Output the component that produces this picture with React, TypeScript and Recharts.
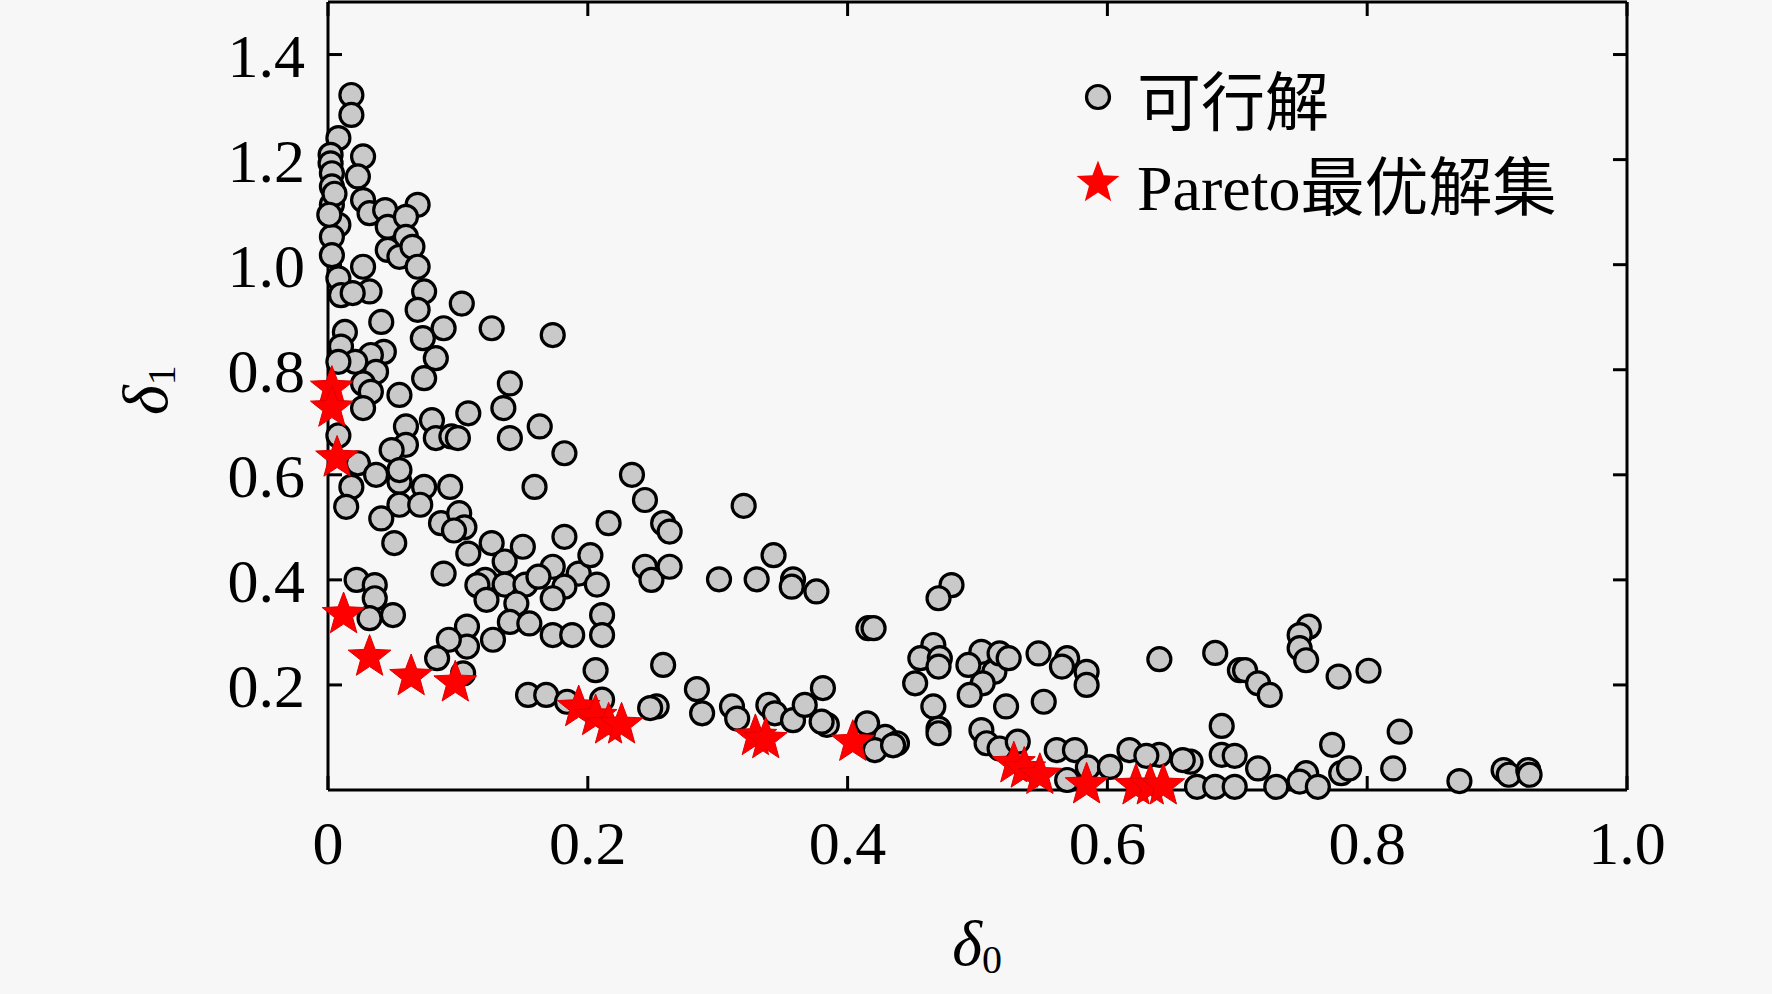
import React from "react";
import { ScatterChart, Scatter, XAxis, YAxis, Legend } from "recharts";

// δ0 / δ1 of the feasible solutions (grey circles)
const feasibleD0 = [
  0.018, 0.018, 0.008, 0.002, 0.002, 0.003, 0.003, 0.003, 0.008, 0.003, 0.003, 0.008, 0.010,
  0.005, 0.001, 0.027, 0.023, 0.027, 0.032, 0.044, 0.046, 0.069, 0.060, 0.060, 0.046, 0.055,
  0.065, 0.069, 0.027, 0.032, 0.019, 0.074, 0.069, 0.103, 0.041, 0.089, 0.126, 0.013, 0.073,
  0.173, 0.140, 0.135, 0.163, 0.140, 0.182,
  0.010, 0.043, 0.033, 0.083, 0.021, 0.008, 0.037, 0.074, 0.027, 0.055, 0.033, 0.027, 0.108,
  0.060, 0.080, 0.083, 0.095, 0.100, 0.060, 0.049, 0.008, 0.023, 0.037, 0.055, 0.055, 0.074,
  0.094, 0.018, 0.014, 0.055, 0.071, 0.041, 0.087, 0.101, 0.105, 0.097, 0.051, 0.108, 0.126,
  0.159, 0.234, 0.244, 0.258, 0.263, 0.216, 0.182, 0.150, 0.136, 0.089, 0.121, 0.115, 0.136,
  0.152, 0.173, 0.162, 0.193, 0.202, 0.182, 0.207, 0.122, 0.145, 0.173, 0.140, 0.155, 0.211,
  0.211, 0.173, 0.188, 0.127, 0.107, 0.107, 0.093, 0.084, 0.022, 0.036, 0.036, 0.050, 0.032,
  0.206, 0.258, 0.154, 0.168, 0.184, 0.211, 0.253, 0.248, 0.284, 0.288, 0.244, 0.249, 0.263,
  0.104,
  0.320, 0.343, 0.301, 0.330, 0.358, 0.357, 0.376, 0.416, 0.420, 0.480, 0.470, 0.466, 0.456,
  0.471, 0.470, 0.452, 0.466, 0.470, 0.470, 0.503, 0.493, 0.513, 0.517, 0.524, 0.504, 0.494,
  0.522, 0.547, 0.551, 0.569, 0.565, 0.584, 0.584, 0.503, 0.507, 0.517, 0.531, 0.561, 0.575,
  0.569, 0.585, 0.311, 0.315, 0.339, 0.344, 0.358, 0.367, 0.381, 0.384, 0.380, 0.415, 0.429,
  0.438, 0.421, 0.435,
  0.640, 0.683, 0.702, 0.706, 0.716, 0.725, 0.755, 0.748, 0.748, 0.753, 0.778, 0.801, 0.688,
  0.773, 0.825, 0.820, 0.871, 0.617, 0.602, 0.640, 0.630, 0.664, 0.658, 0.688, 0.698, 0.716,
  0.669, 0.683, 0.698, 0.730, 0.753, 0.748, 0.762, 0.780, 0.786, 0.905, 0.909, 0.924, 0.925,
];
const feasibleD1 = [
  1.323, 1.285, 1.241, 1.209, 1.193, 1.174, 1.149, 1.114, 1.076, 1.053, 1.018, 0.974, 0.942,
  1.135, 1.095, 1.206, 1.168, 1.123, 1.098, 1.104, 1.072, 1.114, 1.091, 1.053, 1.028, 1.015,
  1.034, 0.996, 0.996, 0.949, 0.946, 0.949, 0.914, 0.926, 0.891, 0.879, 0.879, 0.872, 0.860,
  0.866, 0.774, 0.727, 0.692, 0.670, 0.641,
  0.844, 0.834, 0.828, 0.822, 0.815, 0.815, 0.796, 0.784, 0.774, 0.752, 0.758, 0.727, 0.717,
  0.692, 0.704, 0.670, 0.673, 0.670, 0.657, 0.647, 0.675, 0.622, 0.600, 0.587, 0.609, 0.577,
  0.577, 0.577, 0.539, 0.543, 0.543, 0.517, 0.508, 0.527, 0.500, 0.494, 0.470, 0.450, 0.470,
  0.577, 0.600, 0.552, 0.508, 0.492, 0.508, 0.482, 0.463, 0.435, 0.412, 0.400, 0.390, 0.391,
  0.391, 0.425, 0.406, 0.412, 0.447, 0.387, 0.391, 0.362, 0.355, 0.365, 0.320, 0.317, 0.333,
  0.295, 0.295, 0.295, 0.286, 0.311, 0.273, 0.286, 0.251, 0.400, 0.390, 0.365, 0.333, 0.327,
  0.228, 0.238, 0.181, 0.181, 0.168, 0.172, 0.159, 0.156, 0.192, 0.146, 0.425, 0.400, 0.425,
  0.222,
  0.541, 0.447, 0.401, 0.401, 0.401, 0.387, 0.378, 0.308, 0.308, 0.390, 0.365, 0.276, 0.251,
  0.251, 0.235, 0.203, 0.159, 0.117, 0.108, 0.263, 0.238, 0.225, 0.260, 0.251, 0.203, 0.181,
  0.159, 0.260, 0.168, 0.251, 0.235, 0.225, 0.200, 0.114, 0.089, 0.079, 0.092, 0.076, 0.076,
  0.019, 0.043, 0.159, 0.136, 0.162, 0.146, 0.133, 0.162, 0.194, 0.124, 0.130, 0.127, 0.101,
  0.089, 0.076, 0.085,
  0.249, 0.261, 0.228, 0.228, 0.203, 0.181, 0.311, 0.295, 0.270, 0.247, 0.216, 0.227, 0.122,
  0.086, 0.111, 0.041, 0.017, 0.076, 0.044, 0.067, 0.065, 0.054, 0.057, 0.067, 0.065, 0.041,
  0.006, 0.006, 0.006, 0.006, 0.032, 0.016, 0.006, 0.032, 0.041, 0.038, 0.029, 0.038, 0.029,
];

// Pareto optimal set (red stars)
const paretoD0 = [
  0.003, 0.003, 0.007, 0.012, 0.032, 0.064, 0.098, 0.193, 0.206, 0.216, 0.226,
  0.329, 0.337, 0.404, 0.528, 0.536, 0.548, 0.584, 0.622, 0.633, 0.643,
];
const paretoD1 = [
  0.765, 0.727, 0.632, 0.334, 0.253, 0.216, 0.204, 0.157, 0.140, 0.124, 0.124,
  0.102, 0.096, 0.091, 0.050, 0.040, 0.028, 0.010, 0.008, 0.008, 0.008,
];

const xTicks = [0, 0.2, 0.4, 0.6, 0.8, 1.0];
const yTicks = [0.2, 0.4, 0.6, 0.8, 1.0, 1.2, 1.4];
const seriesNames = ["可行解", "Pareto最优解集"];

const feasible = feasibleD0.map((x, i) => ({ x, y: feasibleD1[i] }));
const pareto = paretoD0.map((x, i) => ({ x, y: paretoD1[i] }));

const W = 1772;
const H = 994;
const SERIF = "'Liberation Serif', 'Times New Roman', serif";
const SERIF_CJK = "'Liberation Serif', 'Noto Sans CJK SC', serif";
const tickFont = { fontFamily: SERIF, fontSize: 62, fill: "#000" };
const axisLine = { stroke: "#000", strokeWidth: 3 };

function starPoints(cx: number, cy: number, R: number, r: number) {
  const pts: string[] = [];
  for (let i = 0; i < 10; i++) {
    const a = -Math.PI / 2 + (i * Math.PI) / 5;
    const rad = i % 2 === 0 ? R : r;
    pts.push(`${cx + rad * Math.cos(a)},${cy + rad * Math.sin(a)}`);
  }
  return pts.join(" ");
}

const GreyDot = (p: any) => (
  <circle cx={p.cx} cy={p.cy} r={11.5} fill="#c9c9c9" stroke="#000" strokeWidth={3.2} />
);

const RedStar = (p: any) => (
  <polygon points={starPoints(p.cx, p.cy, 22.5, 9.5)} fill="#ff0000" stroke="#e00000" strokeWidth={1} />
);

// the frame axes (top / right) need a series bound to them, drawn invisibly
const NoMark = () => <g />;
const NoLabel = () => <g />;

const XTitle = () => (
  <text x={977} y={965} textAnchor="middle" fontFamily={SERIF} fontSize={64} fill="#000">
    <tspan fontStyle="italic">δ</tspan>
    <tspan fontSize={40} dy={8}>0</tspan>
  </text>
);

const YTitle = () => (
  <text
    transform="translate(167, 390) rotate(-90)"
    textAnchor="middle"
    fontFamily={SERIF}
    fontSize={64}
    fill="#000"
  >
    <tspan fontStyle="italic">δ</tspan>
    <tspan fontSize={40} dy={8}>1</tspan>
  </text>
);

function LegendBox() {
  const row = { display: "flex", alignItems: "center", height: 85 } as const;
  return (
    <div style={{ fontFamily: SERIF_CJK, fontSize: 64, color: "#000" }}>
      <div style={row}>
        <svg width={44} height={44}>
          <circle cx={22} cy={22} r={11.5} fill="#c9c9c9" stroke="#000" strokeWidth={3.2} />
        </svg>
        <span style={{ marginLeft: 17 }}>{seriesNames[0]}</span>
      </div>
      <div style={row}>
        <svg width={44} height={46}>
          <polygon points={starPoints(22, 24, 22.5, 9.5)} fill="#ff0000" />
        </svg>
        <span style={{ marginLeft: 17 }}>{seriesNames[1]}</span>
      </div>
    </div>
  );
}

export default function App() {
  return (
    <div style={{ position: "absolute", left: 0, top: 0, width: W, height: H, background: "#f7f7f7" }}>
      <ScatterChart width={W} height={H} margin={{ top: 1, right: 144, bottom: 0, left: 0 }}>
        <XAxis
          dataKey="x"
          type="number"
          domain={[0, 1]}
          ticks={xTicks}
          interval={0}
          height={204}
          tickFormatter={(v: number) => (v === 0 ? "0" : v.toFixed(1))}
          tick={tickFont}
          tickSize={-14}
          tickMargin={44}
          axisLine={axisLine}
          tickLine={axisLine}
          label={XTitle}
        />
        <XAxis
          xAxisId="top"
          orientation="top"
          dataKey="x"
          type="number"
          domain={[0, 1]}
          ticks={xTicks}
          interval={0}
          height={1}
          tick={NoLabel}
          tickSize={-14}
          axisLine={axisLine}
          tickLine={axisLine}
        />
        <YAxis
          dataKey="y"
          type="number"
          domain={[0, 1.5]}
          ticks={yTicks}
          interval={0}
          width={328}
          tickFormatter={(v: number) => v.toFixed(1)}
          tick={tickFont}
          tickSize={-14}
          tickMargin={37}
          axisLine={axisLine}
          tickLine={axisLine}
          label={YTitle}
        />
        <YAxis
          yAxisId="right"
          orientation="right"
          dataKey="y"
          type="number"
          domain={[0, 1.5]}
          ticks={yTicks}
          interval={0}
          width={1}
          tick={NoLabel}
          tickSize={-14}
          axisLine={axisLine}
          tickLine={axisLine}
        />
        <Legend
          layout="vertical"
          align="center"
          verticalAlign="middle"
          content={LegendBox}
          wrapperStyle={{ top: 54, left: 1076, width: 560, height: 170 }}
        />
        <Scatter
          xAxisId="top"
          yAxisId="right"
          data={pareto}
          shape={NoMark}
          legendType="none"
          isAnimationActive={false}
        />
        <Scatter name={seriesNames[0]} data={feasible} shape={GreyDot} isAnimationActive={false} />
        <Scatter name={seriesNames[1]} data={pareto} shape={RedStar} isAnimationActive={false} />
      </ScatterChart>
    </div>
  );
}
